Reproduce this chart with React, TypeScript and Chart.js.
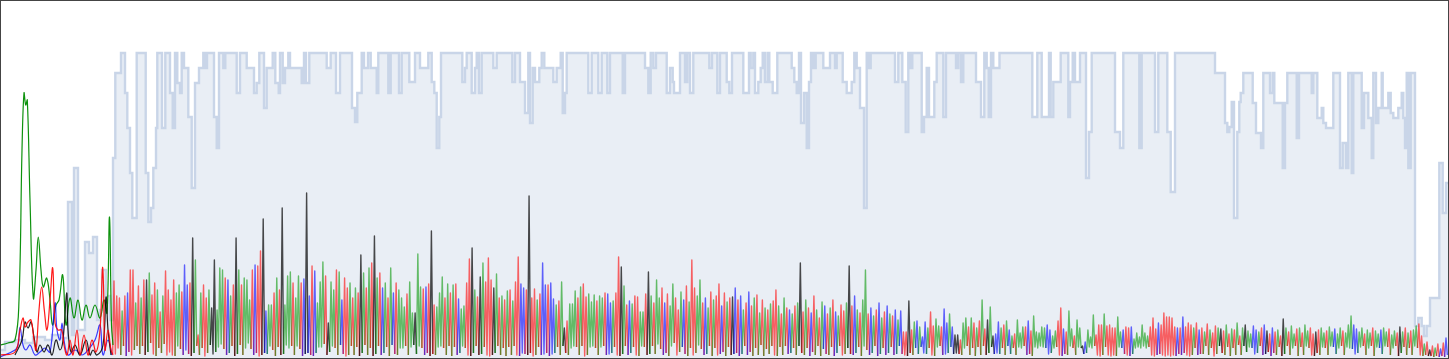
import React, { useEffect, useRef } from "react";
import { Chart, registerables } from "chart.js";

Chart.register(...registerables);

type Spike = [string, number, number];
type Pt = [number, number];

const TIME_MIN = 1;
const TIME_MAX = 1448;
const LEVEL_MAX = 357;
const DENSE_START = 114;
const DENSE_END = 1446;

// background stepped series: [time, level]
const backlog: Pt[] = [
  [0,8],[5,16],[15,18],[25,15],[33,21],[45,18],[52,23],[60,20],[68,156],[72,23],[74,190],[78,28],[85,116],[89,105],[93,121],[97,38],[100,48],[102,88],[106,62],[110,38],[113,200],[115.3,285],[121,305],[125,265],[127.3,230],[130,185],[132.3,140],[136.7,305],[145.7,185],[148.3,136],[151,150],[153.3,190],[156,230],[157.3,305],[162,230],[165.3,305],[170,265],[172.7,230],[175,305],[177.3,275],[180,265],[181.7,305],[184,290],[188.3,241],[191.7,170],[195,275],[199,290],[203.3,305],[205.5,290],[207,305],[214,241],[216.7,210],[219,305],[223.3,290],[225.3,305],[236.7,265],[240,305],[246.7,290],[254,265],[256.7,275],[259.3,305],[264,250],[266.7,290],[272.7,305],[275.3,275],[278.7,265],[280,305],[282.7,275],[285,290],[288.3,305],[290,290],[301.7,275],[304,305],[306,275],[309.3,305],[326.7,290],[330.7,305],[336,265],[340,305],[352,250],[355,236],[357.3,265],[361.7,305],[364,290],[368,305],[370.7,290],[376.7,265],[378.3,305],[388.3,265],[390.7,305],[399,265],[401.7,305],[409.3,276],[415,305],[420,290],[428.3,305],[431.7,276],[434.3,265],[436.7,210],[439.3,241],[441,305],[462.3,276],[465,290],[466.7,305],[471.7,265],[475,290],[476.7,305],[479,265],[481.7,305],[493.3,290],[496.7,305],[512.3,276],[515,305],[520,276],[525,245],[528.3,305],[530,235],[532.7,290],[535,276],[539.3,290],[541.7,305],[544.3,290],[553.3,276],[556.7,290],[560.7,305],[562.7,245],[565,265],[566.7,305],[588.3,265],[591.7,305],[598.3,265],[601.7,305],[607.3,265],[610,305],[622.7,265],[625,305],[645,290],[648.3,265],[650.7,305],[653.3,290],[656,305],[666.7,265],[670,290],[672.7,276],[674,265],[680,305],[685,276],[687.3,305],[690,265],[693.3,305],[709.3,290],[712,305],[717.3,265],[720,305],[726.7,276],[729.3,265],[732,305],[743.3,265],[749,305],[750.7,290],[753.3,305],[755,265],[758.3,276],[760.7,290],[762.7,305],[765,276],[767.7,305],[769.3,276],[772.7,265],[777.3,305],[791.7,290],[794.3,276],[796.7,265],[799,305],[801,235],[804,265],[806.7,210],[809,276],[811,305],[813.3,290],[815.7,305],[823.3,290],[830,305],[835,290],[836.7,305],[842.7,276],[846.7,265],[851.7,276],[854.3,305],[856.7,290],[860,250],[864,150],[866.7,305],[868.5,290],[870.7,305],[895,276],[898.3,305],[902.3,276],[905.7,226],[908.3,305],[910,290],[912.3,305],[921.7,226],[924,241],[926.7,290],[929,241],[934.3,276],[936.7,305],[943.3,241],[946,305],[956,290],[958.3,305],[961,276],[963.3,305],[976,276],[981,241],[984.3,305],[986.7,290],[988.7,241],[991,305],[993.3,290],[999.5,305],[1032.3,241],[1037.3,305],[1041.7,241],[1049,305],[1050.7,241],[1053.3,276],[1060.7,305],[1068.3,241],[1070,276],[1072.7,305],[1075,276],[1080,305],[1086,180],[1089,226],[1091.7,305],[1115,226],[1120,210],[1123.3,305],[1139.3,210],[1141.7,305],[1155,226],[1158.3,305],[1167.3,226],[1170.7,166],[1175,305],[1215,285],[1225,235],[1227.3,226],[1229.3,231],[1231.7,256],[1234,140],[1237.3,226],[1239.3,256],[1240.7,265],[1243.3,285],[1252.7,255],[1256,225],[1261,210],[1263.3,285],[1270,265],[1272.7,285],[1274.3,255],[1282.7,190],[1285,255],[1287.3,285],[1296.7,220],[1299,285],[1311.7,265],[1313.3,285],[1317.3,240],[1321.7,250],[1323.3,235],[1326,230],[1333.3,285],[1340,190],[1342.7,215],[1346,190],[1348.3,285],[1351.7,185],[1353.3,285],[1361.7,230],[1364,265],[1368.3,240],[1371.7,200],[1373.3,285],[1376,235],[1378.3,250],[1381.7,285],[1382.7,250],[1388.3,265],[1390.7,245],[1393.3,240],[1398.3,250],[1401.7,265],[1403.3,240],[1405,210],[1406.7,285],[1408.3,190],[1410.7,285],[1415,32],[1418.3,40],[1421.7,32],[1424,22],[1426.7,32],[1430,60],[1439.3,195],[1442.7,145],[1446,175],[1448,175]
];

// early smooth series: [time, level]
const earlyGreen: Pt[] = [[0,13],[8,15],[15,18],[19,58],[22,208],[24,265],[25.7,253],[27.3,258],[30,158],[33.3,60],[36,88],[38.3,121],[41,88],[43.3,71],[46.7,80],[50,58],[52.5,33],[56,53],[59,58],[62.7,83],[66,33],[70,60],[74,40],[78,58],[82,38],[86,53],[90,40],[95,53],[100,40],[104,58],[107,45],[109.5,141],[111.5,33],[113,13]];
const earlyRed: Pt[] = [[0,3],[15,6],[20,28],[23,40],[25,31],[28,36],[31,38],[34,18],[36,8],[39,48],[41.7,71],[44.3,48],[47,28],[50,58],[52.7,90],[55,35],[58,28],[61.7,28],[64,13],[67,3],[70,18],[73,3],[77,28],[80,3],[84,23],[88,3],[92,18],[96,6],[100,28],[102.5,90],[103.5,73],[105,8],[108,28],[111,8],[113,3]];
const earlyBlack: Pt[] = [[15,3],[22,18],[25,36],[28,30],[31,36],[34,21],[37,6],[40,13],[44,6],[48,13],[52,3],[56,18],[60,8],[63,18],[66.7,65],[68,28],[71,6],[75,13],[80,3],[86,18],[90,3],[93,8],[97,3],[103,13],[106,61],[108,28],[111,3]];
const earlyBlue: Pt[] = [[0,1],[15,8],[18,13],[20,31],[23,13],[26,8],[30,13],[35,3],[40,6],[45,10],[50,6],[55,55],[57,28],[60,18],[62,35],[64,18],[68,3],[75,8],[82,3],[88,8],[95,18],[100,33],[103,3],[108,18],[112,3]];

// dense section: [series, peak, trough]
const regionA: Spike[] = [
  ["r",77,4],["r",62,10],["r",60,3],["g",47,12],["r",62,2],["b",65,6],["r",88,3],["r",88,8],["g",55,12],["r",72,4],
  ["g",60,12],["r",78,3],["k",78,6],["g",85,15],["r",63,4],["r",75,2],["g",68,10],["r",46,5],["g",62,14],["r",87,3],
  ["r",68,6],["r",58,3],["r",78,2],["g",65,12],["g",73,9],["r",66,3],["b",93,8],["b",73,4],["r",75,2],["k",120,5],
  ["g",98,12],["r",23,3],["g",65,10],["r",73,2],["r",60,5],["g",68,13],["k",50,4],["k",98,6],["g",48,11],["g",90,14],
  ["g",88,9],["r",80,3],["b",78,5],["g",62,12],["r",73,2],["k",120,4],["g",88,13],["r",73,3],["g",80,10],["g",78,15],
  ["g",58,9],["r",88,3],["b",93,5],["r",92,2],["r",107,3],["k",139,5],["b",47,4],["g",53,12],["g",53,8],["r",65,2],
  ["g",80,11],["r",68,3],["k",150,4],["g",53,13],["g",82,10],["g",86,12],["r",75,3],["g",60,12],["g",82,9],["r",75,2],
  ["b",79,4],["k",165,5],["b",62,3],["r",92,2],["b",87,5],["g",55,11],["g",76,11],["g",96,14],["r",82,3],["k",35,6],
  ["g",76,12],["g",68,10],["r",88,3],["g",86,13],["b",58,4],["r",80,2],["r",70,3]
];
const regionB: Spike[] = [
  ["g",75,12],["r",60,3],["g",70,11],["r",65,2],["k",103,5],["g",85,13],["r",70,3],["g",90,10],["r",95,2],["k",122,4],
  ["g",80,12],["r",85,3],["b",70,5],["g",75,11],["r",60,2],["g",90,13],["b",65,4],["r",75,3],["g",68,10]
];
const regionC: Spike[] = [
  ["g",60,10],["g",51,12],["r",64,3],["g",76,11],["g",45,13],["k",45,4],["g",104,12],["g",71,10],["r",69,3],["b",71,5],
  ["r",74,2],["k",127,4],["r",53,3],["g",51,11],["g",65,12],["g",81,10],["r",60,3],["g",74,12],["r",65,2],["g",73,11],
  ["r",74,3],["b",59,5],["g",49,12],["g",52,10],["r",75,3],["r",99,2],["k",110,5],["g",68,12],["r",61,3],["k",81,4],
  ["g",95,11],["r",76,3],["r",100,2],["r",78,3],["k",70,5],["g",84,12],["r",60,3],["g",62,10],["r",58,2],["g",67,11],
  ["r",68,3],["g",57,12],["r",76,3],["r",101,2],["b",74,5],["b",70,4],["r",68,3],["k",162,5],["r",60,2],["r",69,3],
  ["g",58,11],["r",64,3],["b",95,4],["b",73,5],["r",73,2],["b",75,4],["b",59,5],["g",53,11],["r",57,3],["g",76,12],
  ["k",30,5],["r",37,3],["g",54,10],["g",54,12],["g",67,11],["r",60,3],["g",71,12],["r",74,2],["r",61,3],["g",64,11],
  ["g",56,12],["g",63,10],["r",57,3],["g",62,11],["g",60,12],["r",65,3],["b",64,4],["b",55,5],["g",57,11],["r",65,3],
  ["r",101,2],["k",91,4],["g",72,12],["r",53,3],["b",57,5],["g",54,11],["r",62,3],["r",61,2],["g",46,12],["g",46,11],
  ["r",64,3],["k",86,4]
];
const regionD: Spike[] = [
  ["g",62,12],["r",55,4],["g",78,14],["g",60,9],["r",70,3],["b",55,5],["r",64,2],["g",52,12],["g",74,15],["r",60,3],
  ["r",48,6],["g",66,11],["b",58,4],["r",72,2],["g",56,10],["r",98,3],["r",70,5],["g",62,13],["g",78,9],["r",55,3],
  ["b",60,4],["g",50,12],["r",66,2],["g",58,10],["r",62,3],["r",74,4],["b",52,6],["r",65,2],["g",56,11],["r",60,3],
  ["k",61,4],["b",70,5],["r",58,2],["b",62,4],["g",48,12],["r",55,3],["b",66,6],["r",52,2],["g",60,10],["r",63,3],
  ["g",45,13],["r",58,2],["g",50,9],["r",48,4],["g",54,12],["r",57,3],["r",68,2],["g",52,11],["r",44,3],["g",60,12],
  ["r",50,4],["b",48,5],["g",44,10],["r",52,3],["g",55,12],["k",95,5],["r",46,3],["g",58,10],["r",50,2],["b",45,6],
  ["r",62,3],["g",48,12],["r",40,2],["g",56,9],["b",52,4],["r",44,3],["g",50,11],["r",58,2],["b",46,5],["g",42,12],
  ["r",53,3],["r",47,4],["g",55,10],["k",92,4],["r",52,3],["b",62,5],["g",48,11],["r",45,2],["g",58,12],["g",88,8],
  ["r",44,3],["b",50,5],["g",42,12],["r",48,2],["b",55,4],["g",40,10],["r",46,3],["b",52,5],["g",44,11],["r",42,3],
  ["b",48,4],["g",38,12]
];
const regionE: Spike[] = [
  ["b",47,4],["r",26,3],["r",26,2],["k",57,5],["r",28,3],["g",36,10],["b",37,4],["g",31,11],["b",21,5],["b",36,4],
  ["g",30,10],["r",46,3],["r",32,2],["g",39,11],["g",32,12],["r",31,3],["b",49,4],["b",35,5],["g",44,11],["b",31,4],
  ["k",23,5],["k",23,4],["r",18,3],["g",35,10],["g",40,12],["r",31,3],["g",40,10],["r",35,2],["g",30,11],["r",37,3],
  ["g",58,12],["r",29,3],["k",38,5],["g",51,11],["k",22,4],["b",24,5],["b",36,4],["g",30,10],["r",33,3],["g",37,12],
  ["b",28,4],["g",22,10],["r",24,3],["g",38,11],["g",25,10],["g",31,12],["r",31,3],["b",37,4],["r",27,2],["g",42,11],
  ["g",26,10],["g",25,12],["g",31,11],["g",30,10],["b",33,4],["b",28,5],["g",22,10],["g",27,11],["r",37,3],["r",50,2],
  ["b",29,4],["r",26,3],["g",47,12],["g",29,10],["r",22,3],["g",38,11],["g",30,10],["k",12,4],["b",16,5],["g",28,11],
  ["g",21,10],["g",43,12],["r",23,3],["r",33,2],["r",33,3],["g",44,11],["r",32,3],["r",33,2],["r",30,3],["r",30,2],
  ["g",41,11],["g",26,10],["b",28,4],["r",31,3],["r",30,2],["b",31,4],["g",19,10],["g",25,11],["g",21,10],["g",33,12],
  ["g",25,10],["g",22,11],["r",31,3],["r",40,2],["r",29,3],["b",35,4],["r",33,3],["r",45,2],["r",41,3],["r",41,2],
  ["r",40,3],["r",31,2],["b",30,4],["r",30,3],["b",41,5],["r",31,3],["r",35,2],["r",33,3],["g",30,10],["r",35,3],
  ["b",28,4]
];
const regionF: Spike[] = [
  ["r",30,4],["g",26,12],["r",34,3],["g",28,10],["r",25,2],["r",32,4],["g",30,12],["k",29,5],["r",27,3],["g",33,11],
  ["r",24,2],["g",29,10],["r",28,3],["g",35,13],["r",22,3],["g",30,12],["k",33,6],["g",27,11],["g",24,10],["b",32,4],
  ["b",28,5],["g",26,12],["r",30,3],["b",33,4],["k",27,6],["r",24,2],["b",30,5],["r",26,3],["g",28,11],["r",22,2],
  ["k",39,4],["g",30,12],["r",26,3],["g",32,10],["g",24,12],["r",29,2],["g",30,11],["r",25,3],["g",33,12],["g",27,10],
  ["r",30,3],["r",24,2],["k",26,5],["r",28,3],["g",30,11],["g",25,10],["r",27,3],["g",31,12],["g",26,11],["b",29,4],
  ["g",24,10],["g",30,12],["r",27,3],["g",25,11],["g",33,10],["g",42,9],["b",33,4],["b",29,5],["g",26,11],["g",30,12],
  ["r",24,3],["g",28,10],["g",25,12],["r",30,2],["g",27,11],["g",24,10],["b",28,4],["g",30,12],["g",26,11],["r",29,3],
  ["g",23,10],["g",27,12],["r",25,2],["k",31,5],["g",26,11],["r",30,3],["g",25,10],["r",27,3],["g",28,12],["g",32,10],
  ["r",34,3],["r",22,2],["g",14,3],["r",16,2],["k",8,2],["r",12,1],["g",10,2],["r",14,1],["b",9,2],["r",15,1],
  ["b",20,3]
];

const seriesColors: Record<string, string> = {
  g: "rgba(0,150,0,0.58)",
  r: "rgba(255,0,0,0.6)",
  b: "rgba(0,0,255,0.6)",
  k: "rgba(0,0,0,0.7)",
};

const toXY = (pts: Pt[]) => pts.map(([x, y]) => ({ x, y }));

export default function App() {
  const ref = useRef<HTMLCanvasElement | null>(null);

  useEffect(() => {
    document.body.style.margin = "0";
    const canvas = ref.current;
    if (!canvas) return;

    const spikes: Spike[] = [...regionA, ...regionB, ...regionC, ...regionD, ...regionE, ...regionF];
    const step = (DENSE_END - DENSE_START) / (spikes.length - 1);
    const dense: { x: number; y: number }[] = [{ x: DENSE_START - step / 2, y: spikes[0][2] }];
    spikes.forEach(([, peak, low], i) => {
      const t = DENSE_START + i * step;
      dense.push({ x: t, y: peak });
      dense.push({ x: t + step / 2, y: low });
    });

    const early = (data: Pt[], color: string) => ({
      data: toXY(data),
      borderColor: color,
      borderWidth: 1.2,
      pointRadius: 0,
      tension: 0.4,
      fill: false,
    });

    const chart = new Chart(canvas, {
      type: "line",
      data: {
        datasets: [
          early(earlyRed, "rgba(255,0,0,0.9)"),
          early(earlyBlack, "rgba(0,0,0,0.85)"),
          early(earlyBlue, "rgba(0,0,255,0.75)"),
          early(earlyGreen, "rgba(0,140,0,0.95)"),
          {
            data: dense,
            borderWidth: 1.4,
            pointRadius: 0,
            tension: 0,
            fill: false,
            borderColor: seriesColors.g,
            borderJoinStyle: "round",
            segment: {
              borderColor: (ctx: any) => seriesColors[spikes[Math.min(spikes.length - 1, Math.floor(ctx.p0DataIndex / 2))][0]],
            },
          } as any,
          {
            data: toXY(backlog),
            stepped: true,
            borderColor: "#c9d5e8",
            borderWidth: 2.4,
            backgroundColor: "#e9eef5",
            fill: "origin",
            pointRadius: 0,
          } as any,
        ],
      },
      options: {
        animation: false,
        responsive: false,
        maintainAspectRatio: false,
        events: [],
        layout: { padding: 0 },
        plugins: { legend: { display: false }, tooltip: { enabled: false } },
        scales: {
          x: { type: "linear", min: TIME_MIN, max: TIME_MAX, display: false },
          y: { type: "linear", min: 0, max: LEVEL_MAX, display: false },
        },
      },
    });
    return () => chart.destroy();
  }, []);

  return (
    <div style={{ width: 1449, height: 359, border: "1px solid #444", boxSizing: "border-box", background: "#fff" }}>
      <canvas ref={ref} width={1447} height={357} style={{ display: "block", width: 1447, height: 357 }} />
    </div>
  );
}
